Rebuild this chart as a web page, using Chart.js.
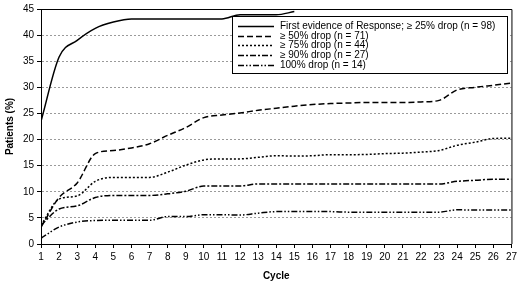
<!DOCTYPE html>
<html>
<head>
<meta charset="utf-8">
<script src="https://cdn.jsdelivr.net/npm/chart.js@4.4.1/dist/chart.umd.min.js"></script>
<style>
  html, body { margin: 0; padding: 0; background: #fff; }
  #wrap { width: 520px; height: 282px; position: relative; }
</style>
</head>
<body>
<div id="wrap"><canvas id="chart"></canvas></div>
<script>
// ─── Data ────────────────────────────────────────────────────────────────────
const CYCLES = [1, 2, 3, 4, 5, 6, 7, 8, 9, 10, 11, 12, 13, 14, 15, 16, 17, 18, 19, 20, 21, 22, 23, 24, 25, 26, 27];

const SERIES_LABELS = [
    "First evidence of Response; \u2265 25% drop (n = 98)",
    "\u2265 50% drop (n = 71)",
    "\u2265 75% drop (n = 44)",
    "\u2265 90% drop (n = 27)",
    "100% drop (n = 14)"
];

const DROP_25 = [23.5, 35.8, 39.0, 41.3, 42.5, 43.1, 43.1, 43.1, 43.1, 43.1, 43.1, 43.9, 43.9, 43.9, 44.5];
const DROP_50 = [3.2, 8.9, 11.7, 17.3, 17.9, 18.4, 19.2, 20.8, 22.3, 24.2, 24.7, 25.1, 25.6, 26.0, 26.4, 26.7, 26.9, 27.0, 27.1, 27.1, 27.1, 27.2, 27.5, 29.5, 30.0, 30.4, 30.8];
const DROP_75 = [3.6, 8.6, 9.2, 12.0, 12.75, 12.75, 12.75, 13.75, 15.1, 16.1, 16.3, 16.3, 16.6, 16.9, 16.85, 16.9, 17.1, 17.1, 17.15, 17.3, 17.4, 17.6, 17.9, 18.9, 19.5, 20.2, 20.25];
const DROP_90 = [3.6, 6.7, 7.3, 8.9, 9.3, 9.3, 9.3, 9.6, 10.1, 11.1, 11.1, 11.1, 11.5, 11.5, 11.5, 11.5, 11.5, 11.5, 11.5, 11.5, 11.5, 11.5, 11.5, 12.0, 12.2, 12.4, 12.4];
const DROP_100 = [1.1, 3.25, 4.2, 4.5, 4.55, 4.55, 4.55, 5.25, 5.25, 5.6, 5.6, 5.55, 5.9, 6.2, 6.2, 6.2, 6.2, 6.1, 6.1, 6.1, 6.1, 6.1, 6.1, 6.55, 6.5, 6.5, 6.5];

const Y_TICKS = [0, 5, 10, 15, 20, 25, 30, 35, 40, 45];

// ─── Helpers ─────────────────────────────────────────────────────────────────
const toPoints = (values) => values.map((v, i) => ({ x: CYCLES[i], y: v }));

const DASHES = [[], [6, 3], [2, 2], [6, 2, 2, 2], [6, 2, 1.5, 2, 1.5, 2]];
const FONT   = "'Liberation Sans', Arial, sans-serif";

const makeSet = (idx, values) => ({
    label:            SERIES_LABELS[idx],
    data:             toPoints(values),
    borderColor:      "#000",
    borderWidth:      1.5,
    borderDash:       DASHES[idx],
    pointRadius:      0,
    fill:             false,
    cubicInterpolationMode: "monotone",
});

// Frame (top + right) and the boxed legend inside the plot
const framePlugin = {
    id: "frameAndLegend",
    afterDatasetsDraw(chart) {
        const { ctx, chartArea: a } = chart;
        ctx.save();
        ctx.strokeStyle = "#000";
        ctx.lineWidth = 1;
        ctx.setLineDash([]);
        ctx.beginPath();
        ctx.moveTo(a.left, a.top + 0.5);
        ctx.lineTo(a.right + 0.5, a.top + 0.5);
        ctx.lineTo(a.right + 0.5, a.bottom);
        ctx.stroke();

        // legend box
        const bx = 232.5, by = 16.5, bw = 275, bh = 57;
        ctx.fillStyle = "#fff";
        ctx.fillRect(bx, by, bw, bh);
        ctx.strokeRect(bx, by, bw, bh);

        ctx.font = `10px ${FONT}`;
        ctx.textBaseline = "middle";
        ctx.textAlign = "left";
        ctx.fillStyle = "#000";
        const rowY = [26, 35.5, 45, 54.7, 64.5];
        chart.data.datasets.forEach((ds, i) => {
            const y = Math.round(rowY[i]) + 0.5;
            ctx.lineWidth = 1.5;
            ctx.setLineDash(ds.borderDash);
            ctx.beginPath();
            ctx.moveTo(238, y);
            ctx.lineTo(274, y);
            ctx.stroke();
            ctx.setLineDash([]);
            ctx.fillText(ds.label, 280, rowY[i] + 0.5);
        });
        ctx.restore();
    }
};

new Chart(document.getElementById("chart"), {
    type: "line",
    data: {
        datasets: [
            makeSet(0, DROP_25),
            makeSet(1, DROP_50),
            makeSet(2, DROP_75),
            makeSet(3, DROP_90),
            makeSet(4, DROP_100),
        ],
    },
    options: {
        responsive:          true,
        maintainAspectRatio: false,
        animation:           false,
        layout: { padding: { top: 4, right: 5, left: 0, bottom: 0 } },
        plugins: {
            legend:  { display: false },
            tooltip: { enabled: false },
        },
        scales: {
            x: {
                type: "linear",
                min:  1,
                max:  27,
                afterBuildTicks: (scale) => {
                    scale.ticks = CYCLES.map(v => ({ value: v }));
                },
                afterFit: (scale) => { scale.height = 38; },
                ticks: {
                    color:       "#000",
                    font:        { family: FONT, size: 10 },
                    padding:     3,
                    maxRotation: 0,
                    autoSkip:    false,
                },
                grid: {
                    drawOnChartArea: false,
                    drawTicks:       true,
                    tickLength:      4,
                    tickColor:       "#000",
                    tickWidth:       1,
                },
                border: { display: true, color: "#000", width: 1 },
                title: {
                    display: true,
                    text:    "Cycle",
                    color:   "#000",
                    font:    { family: FONT, size: 10, weight: "bold" },
                    padding: { top: 0, bottom: 0 },
                },
            },
            y: {
                min: 0,
                max: 45,
                afterBuildTicks: (scale) => {
                    scale.ticks = Y_TICKS.map(v => ({ value: v }));
                },
                afterFit: (scale) => { scale.width = 41; },
                ticks: {
                    color:   "#000",
                    font:    { family: FONT, size: 10 },
                    padding: 3,
                },
                grid: {
                    color: (c) => (c.tick && (c.tick.value === 0 || c.tick.value === 45)) ? "rgba(0,0,0,0)" : "#9a9a9a",
                    lineWidth:      1,
                    drawTicks:      true,
                    tickLength:     4,
                    tickColor:      "#000",
                    tickBorderDash: [],
                },
                border: { display: true, color: "#000", width: 1, dash: [2, 2] },
                title: {
                    display: true,
                    text:    "Patients (%)",
                    color:   "#000",
                    font:    { family: FONT, size: 10, weight: "bold" },
                    padding: { top: 4, bottom: 0 },
                },
            },
        },
    },
    plugins: [framePlugin],
});
</script>
</body>
</html>
